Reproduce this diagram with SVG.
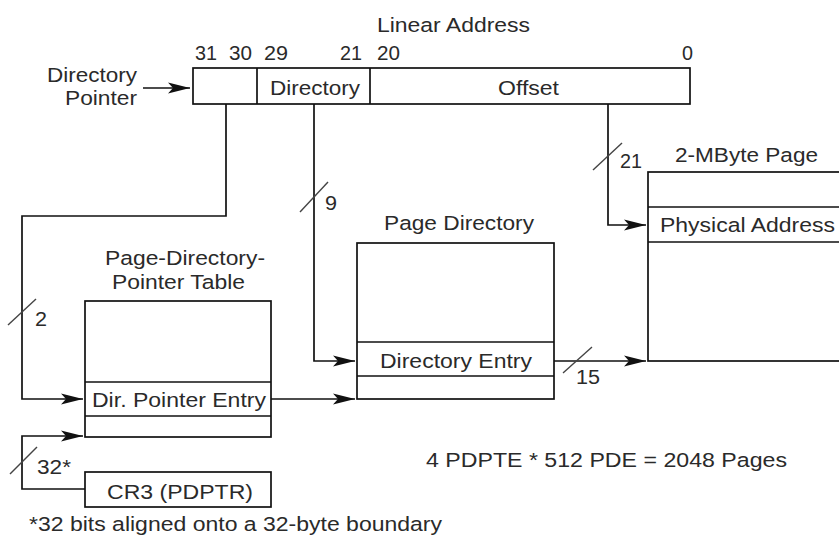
<svg xmlns="http://www.w3.org/2000/svg" width="839" height="539" viewBox="0 0 839 539">
  <style>
    text { font-family: "Liberation Sans", Arial, sans-serif; font-size: 20.5px; fill: #2a2a2a; }
    .box { fill: none; stroke: #111; stroke-width: 1.7; }
    .wire { fill: none; stroke: #111; stroke-width: 1.7; }
    .slash { stroke: #444; stroke-width: 1.4; }
  </style>
  <defs>
    <marker id="arrow" markerUnits="userSpaceOnUse" markerWidth="24" markerHeight="14" refX="22" refY="7" orient="auto">
      <path d="M0,1.5 L22,7 L0,12.5 L5,7 Z" fill="#111"/>
    </marker>
  </defs>

  <rect width="839" height="539" fill="#fff"/>

  <!-- Linear address register with bit fields -->
  <g id="linear-address">
    <text x="377" y="32" textLength="153" lengthAdjust="spacingAndGlyphs">Linear Address</text>
    <text x="195" y="60" textLength="22" lengthAdjust="spacingAndGlyphs">31</text>
    <text x="229" y="60" textLength="23" lengthAdjust="spacingAndGlyphs">30</text>
    <text x="264" y="60" textLength="24" lengthAdjust="spacingAndGlyphs">29</text>
    <text x="340" y="60" textLength="22" lengthAdjust="spacingAndGlyphs">21</text>
    <text x="377" y="60" textLength="23" lengthAdjust="spacingAndGlyphs">20</text>
    <text x="682" y="60" textLength="11" lengthAdjust="spacingAndGlyphs">0</text>
    <rect class="box" x="193" y="68" width="497" height="36"/>
    <line class="box" x1="257" y1="68" x2="257" y2="104"/>
    <line class="box" x1="370" y1="68" x2="370" y2="104"/>
    <text x="270" y="95" textLength="90" lengthAdjust="spacingAndGlyphs">Directory</text>
    <text x="498" y="95" textLength="61" lengthAdjust="spacingAndGlyphs">Offset</text>
  </g>

  <g id="directory-pointer-label">
    <text x="47" y="82" textLength="90" lengthAdjust="spacingAndGlyphs">Directory</text>
    <text x="65" y="105" textLength="72" lengthAdjust="spacingAndGlyphs">Pointer</text>
  </g>

  <!-- Page-directory-pointer table -->
  <g id="pdpt">
    <text x="105" y="265" textLength="160" lengthAdjust="spacingAndGlyphs">Page-Directory-</text>
    <text x="112" y="289" textLength="133" lengthAdjust="spacingAndGlyphs">Pointer Table</text>
    <rect class="box" x="85" y="301" width="186" height="136"/>
    <line class="box" x1="85" y1="382" x2="271" y2="382"/>
    <line class="box" x1="85" y1="416" x2="271" y2="416"/>
    <text x="92" y="407" textLength="174" lengthAdjust="spacingAndGlyphs">Dir. Pointer Entry</text>
  </g>

  <!-- Page directory -->
  <g id="page-directory">
    <text x="384" y="230" textLength="150" lengthAdjust="spacingAndGlyphs">Page Directory</text>
    <rect class="box" x="357" y="243" width="197" height="156"/>
    <line class="box" x1="357" y1="342" x2="554" y2="342"/>
    <line class="box" x1="357" y1="376" x2="554" y2="376"/>
    <text x="380" y="368" textLength="152" lengthAdjust="spacingAndGlyphs">Directory Entry</text>
  </g>

  <!-- 2-MByte page -->
  <g id="page-2mb">
    <text x="675" y="162" textLength="143" lengthAdjust="spacingAndGlyphs">2-MByte Page</text>
    <rect class="box" x="648" y="172" width="220" height="189"/>
    <line class="box" x1="648" y1="207" x2="839" y2="207"/>
    <line class="box" x1="648" y1="242" x2="839" y2="242"/>
    <text x="660" y="232" textLength="175" lengthAdjust="spacingAndGlyphs">Physical Address</text>
  </g>

  <!-- CR3 register -->
  <g id="cr3">
    <rect class="box" x="85" y="472" width="186" height="35"/>
    <text x="107" y="499" textLength="146" lengthAdjust="spacingAndGlyphs">CR3 (PDPTR)</text>
  </g>

  <g id="notes">
    <text x="426" y="467" textLength="361" lengthAdjust="spacingAndGlyphs">4 PDPTE * 512 PDE = 2048 Pages</text>
    <text x="29" y="531" textLength="413" lengthAdjust="spacingAndGlyphs">*32 bits aligned onto a 32-byte boundary</text>
  </g>

  <!-- Connectors -->
  <g id="connectors">
    <line class="wire" x1="143" y1="88" x2="190" y2="88" marker-end="url(#arrow)"/>
    <polyline class="wire" points="226,104 226,216 22,216 22,399 83,399" marker-end="url(#arrow)"/>
    <polyline class="wire" points="314,104 314,361 355,361" marker-end="url(#arrow)"/>
    <polyline class="wire" points="608,104 608,225 646,225" marker-end="url(#arrow)"/>
    <line class="wire" x1="271" y1="399" x2="355" y2="399" marker-end="url(#arrow)"/>
    <line class="wire" x1="554" y1="361" x2="646" y2="361" marker-end="url(#arrow)"/>
    <polyline class="wire" points="85,489 22,489 22,436 83,436" marker-end="url(#arrow)"/>

    <!-- bus-width slashes and labels -->
    <line class="slash" x1="300" y1="212" x2="328" y2="182"/>
    <text x="325" y="210" textLength="12" lengthAdjust="spacingAndGlyphs">9</text>
    <line class="slash" x1="8" y1="325" x2="36" y2="299"/>
    <text x="35" y="326" textLength="12" lengthAdjust="spacingAndGlyphs">2</text>
    <line class="slash" x1="593" y1="170" x2="622" y2="143"/>
    <text x="620" y="168" textLength="22" lengthAdjust="spacingAndGlyphs">21</text>
    <line class="slash" x1="563" y1="373" x2="592" y2="347"/>
    <text x="576" y="384" textLength="24" lengthAdjust="spacingAndGlyphs">15</text>
    <line class="slash" x1="10" y1="474" x2="37" y2="447"/>
    <text x="37" y="474" textLength="34" lengthAdjust="spacingAndGlyphs">32*</text>
  </g>
</svg>
